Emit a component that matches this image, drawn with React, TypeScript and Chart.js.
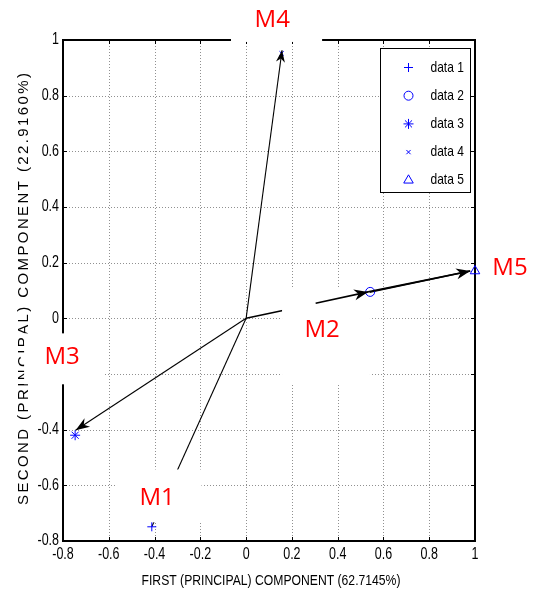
import React, { useEffect, useRef } from 'react';
import { Chart, registerables } from 'chart.js';
import { drawPoint } from 'chart.js/helpers';

Chart.register(...registerables);

// ---------- data ----------
const xTickValues = [-0.8, -0.6, -0.4, -0.2, 0, 0.2, 0.4, 0.6, 0.8, 1];
const xTickLabels = ['-0.8', '-0.6', '-0.4', '-0.2', '0', '0.2', '0.4', '0.6', '0.8', '1'];
const yTickValues = [-0.8, -0.6, -0.4, -0.2, 0, 0.2, 0.4, 0.6, 0.8, 1];
const yTickLabels = ['-0.8', '-0.6', '-0.4', '-0.2', '0', '0.2', '0.4', '0.6', '0.8', '1'];

const seriesNames = ['data 1', 'data 2', 'data 3', 'data 4', 'data 5'];
const seriesX = [-0.412, 0.542, -0.747, 0.155, 1.0];
const seriesY = [-0.749, 0.095, -0.42, 0.952, 0.17];

const vectorNames = ['M1', 'M2', 'M3', 'M4', 'M5'];
const vectorX = [-0.412, 0.533, -0.745, 0.157, 0.979];
const vectorY = [-0.749, 0.095, -0.402, 0.963, 0.17];

const xTitle = 'FIRST (PRINCIPAL) COMPONENT (62.7145%)';
const yTitle = 'SECOND (PRINCIPAL) COMPONENT (22.9160%)';

// ---------- presentation ----------
const markerStyles = ['cross', 'circle', 'star', 'crossRot', 'triangle'];
const markerRadii = [4.5, 4.5, 5, 3, 5.5];
const BLUE = '#0000ff';

// label boxes (in axis units), text anchor (axis units)
const labelBoxes: Record<string, { tx: number; ty: number; box?: [number, number, number, number] }> = {
  M1: { tx: -0.389, ty: -0.647, box: [-0.564, -0.195, -0.733, -0.543] },
  M2: { tx: 0.332, ty: -0.043, box: [0.157, 0.541, -0.234, 0.111] },
  M3: { tx: -0.804, ty: -0.14, box: [-0.97, -0.625, -0.237, -0.054] },
  M4: { tx: 0.114, ty: 1.071, box: [-0.066, 0.332, 0.993, 1.16] },
  M5: { tx: 1.153, ty: 0.18 },
};

const SANS = '"Liberation Sans", Arial, sans-serif';

function narrowText(ctx: CanvasRenderingContext2D, text: string, x: number, y: number, size: number, align: CanvasTextAlign, sx = 0.82) {
  ctx.save();
  ctx.font = `${size}px ${SANS}`;
  ctx.textBaseline = 'middle';
  ctx.textAlign = align;
  ctx.translate(x, y);
  ctx.scale(sx, 1);
  ctx.fillText(text, 0, 0);
  ctx.restore();
}

function arrowHead(ctx: CanvasRenderingContext2D, fx: number, fy: number, tx: number, ty: number, len = 12, hw = 4.5) {
  const a = Math.atan2(ty - fy, tx - fx);
  const c = Math.cos(a), s = Math.sin(a);
  const bx = tx - c * len, by = ty - s * len;
  const nx = tx - c * len * 0.7, ny = ty - s * len * 0.7;
  ctx.beginPath();
  ctx.moveTo(tx, ty);
  ctx.lineTo(bx - s * hw, by + c * hw);
  ctx.lineTo(nx, ny);
  ctx.lineTo(bx + s * hw, by - c * hw);
  ctx.closePath();
  ctx.fill();
}

const biplotPlugin = {
  id: 'biplot',
  beforeDatasetsDraw(chart: any) {
    const { ctx, chartArea: ca, scales } = chart;
    const xs = scales.x, ys = scales.y;
    const X = (v: number) => xs.getPixelForValue(v);
    const Y = (v: number) => ys.getPixelForValue(v);
    ctx.save();
    // grid
    ctx.strokeStyle = '#909090';
    ctx.lineWidth = 1;
    ctx.setLineDash([1, 2]);
    xTickValues.forEach((v) => {
      const p = Math.round(X(v)) + 0.5;
      ctx.beginPath(); ctx.moveTo(p, ca.top); ctx.lineTo(p, ca.bottom); ctx.stroke();
    });
    yTickValues.forEach((v) => {
      const p = Math.round(Y(v)) + 0.5;
      ctx.beginPath(); ctx.moveTo(ca.left, p); ctx.lineTo(ca.right, p); ctx.stroke();
    });
    ctx.setLineDash([]);
    // frame
    ctx.strokeStyle = '#000';
    ctx.lineWidth = 2;
    ctx.strokeRect(ca.left, ca.top, ca.right - ca.left, ca.bottom - ca.top);
    // inward ticks
    ctx.lineWidth = 1;
    xTickValues.forEach((v) => {
      const p = Math.round(X(v)) + 0.5;
      ctx.beginPath();
      ctx.moveTo(p, ca.bottom); ctx.lineTo(p, ca.bottom - 4);
      ctx.moveTo(p, ca.top); ctx.lineTo(p, ca.top + 4);
      ctx.stroke();
    });
    yTickValues.forEach((v) => {
      const p = Math.round(Y(v)) + 0.5;
      ctx.beginPath();
      ctx.moveTo(ca.left, p); ctx.lineTo(ca.left + 4, p);
      ctx.moveTo(ca.right, p); ctx.lineTo(ca.right - 4, p);
      ctx.stroke();
    });
    // tick labels
    ctx.fillStyle = '#000';
    xTickValues.forEach((v, i) => narrowText(ctx, xTickLabels[i], X(v), ca.bottom + 14, 16, 'center', 0.78));
    yTickValues.forEach((v, i) => narrowText(ctx, yTickLabels[i], ca.left - 4, Y(v), 16, 'right', 0.78));
    // x title
    narrowText(ctx, xTitle, (ca.left + ca.right) / 2 + 2, ca.bottom + 40, 14.5, 'center', 0.84);
    // y title (spread letters)
    ctx.save();
    ctx.font = `15px ${SANS}`;
    ctx.textBaseline = 'middle';
    ctx.translate(24, 289);
    ctx.rotate(-Math.PI / 2);
    const chars = yTitle.split('');
    const widths = chars.map((ch) => ctx.measureText(ch).width);
    const total = 432;
    const raw = widths.reduce((a, b) => a + b, 0);
    const gap = (total - raw) / (chars.length - 1);
    let cx = -total / 2;
    ctx.textAlign = 'left';
    chars.forEach((ch, i) => { ctx.fillText(ch, cx, 0); cx += widths[i] + gap; });
    ctx.restore();
    // vector lines from origin
    ctx.strokeStyle = '#000';
    const ox = X(0), oy = Y(0);
    vectorNames.forEach((n, i) => {
      if (n === 'M2') return;
      ctx.lineWidth = n === 'M5' ? 1.6 : 1.1;
      ctx.beginPath(); ctx.moveTo(ox, oy); ctx.lineTo(X(vectorX[i]), Y(vectorY[i])); ctx.stroke();
    });
    // label boxes and labels
    vectorNames.forEach((n) => {
      const lb = labelBoxes[n];
      if (lb.box) {
        const [x1, x2, y1, y2] = lb.box;
        ctx.fillStyle = '#fff';
        ctx.fillRect(X(x1), Y(y2), X(x2) - X(x1), Y(y1) - Y(y2));
      }
      ctx.fillStyle = '#ff0000';
      ctx.font = `24px "Open Sans", ${SANS}`;
      ctx.textAlign = 'center';
      ctx.textBaseline = 'middle';
      ctx.fillText(n, X(lb.tx), Y(lb.ty));
    });
    ctx.restore();
  },
  afterDatasetsDraw(chart: any) {
    const { ctx, chartArea: ca, scales } = chart;
    const xs = scales.x, ys = scales.y;
    const X = (v: number) => xs.getPixelForValue(v);
    const Y = (v: number) => ys.getPixelForValue(v);
    ctx.save();
    ctx.fillStyle = '#000';
    ctx.strokeStyle = '#000';
    const ox = X(0), oy = Y(0);
    const i2 = vectorNames.indexOf('M2');
    const i3 = vectorNames.indexOf('M3');
    const i4 = vectorNames.indexOf('M4');
    const i5 = vectorNames.indexOf('M5');
    // M2 arrow (drawn over its label box)
    const m2x = X(vectorX[i2]), m2y = Y(vectorY[i2]);
    const sx = ox + (m2x - ox) * 0.57, sy = oy + (m2y - oy) * 0.57;
    ctx.lineWidth = 1.6;
    ctx.beginPath(); ctx.moveTo(sx, sy); ctx.lineTo(m2x, m2y); ctx.stroke();
    arrowHead(ctx, sx, sy, m2x, m2y, 14, 5.5);
    // M5 arrow
    const m5x = X(vectorX[i5]), m5y = Y(vectorY[i5]);
    ctx.beginPath(); ctx.moveTo(m2x, m2y); ctx.lineTo(m5x, m5y); ctx.stroke();
    arrowHead(ctx, m2x, m2y, m5x, m5y, 14, 5.5);
    // M3 & M4 heads
    arrowHead(ctx, ox, oy, X(vectorX[i3]), Y(vectorY[i3]), 14, 5);
    arrowHead(ctx, ox, oy, X(vectorX[i4]), Y(vectorY[i4]), 12, 4.5);
    // legend
    const lw = 90, lh = 144;
    const lx = Math.round(ca.right - 95) + 0.5, ly = Math.round(ca.top + 8) + 0.5;
    ctx.fillStyle = '#fff';
    ctx.fillRect(lx, ly, lw, lh);
    ctx.strokeStyle = '#000';
    ctx.lineWidth = 1;
    ctx.strokeRect(lx, ly, lw, lh);
    seriesNames.forEach((name, i) => {
      const ry = ly + 19 + i * 28.2;
      ctx.strokeStyle = BLUE;
      ctx.fillStyle = 'rgba(0,0,0,0)';
      ctx.lineWidth = 1;
      drawPoint(ctx, { pointStyle: markerStyles[i], radius: markerRadii[i], borderWidth: 1, rotation: 0 } as any, lx + 28, ry);
      ctx.fillStyle = '#000';
      narrowText(ctx, name, lx + 50, ry, 15, 'left', 0.8);
    });
    ctx.restore();
  },
};

export default function App() {
  const ref = useRef<HTMLCanvasElement | null>(null);
  useEffect(() => {
    document.body.style.margin = '0';
    const canvas = ref.current!;
    const chart = new Chart(canvas, {
      type: 'scatter',
      data: {
        datasets: seriesNames.map((name, i) => ({
          label: name,
          data: [{ x: seriesX[i], y: seriesY[i] }],
          pointStyle: markerStyles[i] as any,
          pointRadius: markerRadii[i],
          pointBorderWidth: 1,
          borderColor: BLUE,
          backgroundColor: 'rgba(0,0,0,0)',
          clip: false as any,
        })),
      },
      options: {
        animation: false,
        responsive: false,
        maintainAspectRatio: false,
        devicePixelRatio: 1,
        layout: { padding: { top: 40, right: 62, left: 0, bottom: 0 } },
        plugins: { legend: { display: false }, tooltip: { enabled: false } },
        events: [],
        scales: {
          x: {
            type: 'linear', min: -0.8, max: 1,
            ticks: { display: false, stepSize: 0.2 },
            grid: { display: false, drawTicks: false },
            border: { display: false },
            afterFit: (s: any) => { s.height = 51; },
          },
          y: {
            type: 'linear', min: -0.8, max: 1,
            ticks: { display: false, stepSize: 0.2 },
            grid: { display: false, drawTicks: false },
            border: { display: false },
            afterFit: (s: any) => { s.width = 63; },
          },
        },
      },
      plugins: [biplotPlugin],
    });
    return () => chart.destroy();
  }, []);
  return (
    <div style={{ width: 537, height: 592 }}>
      <canvas ref={ref} width={537} height={592} style={{ display: 'block', width: 537, height: 592 }} />
    </div>
  );
}
